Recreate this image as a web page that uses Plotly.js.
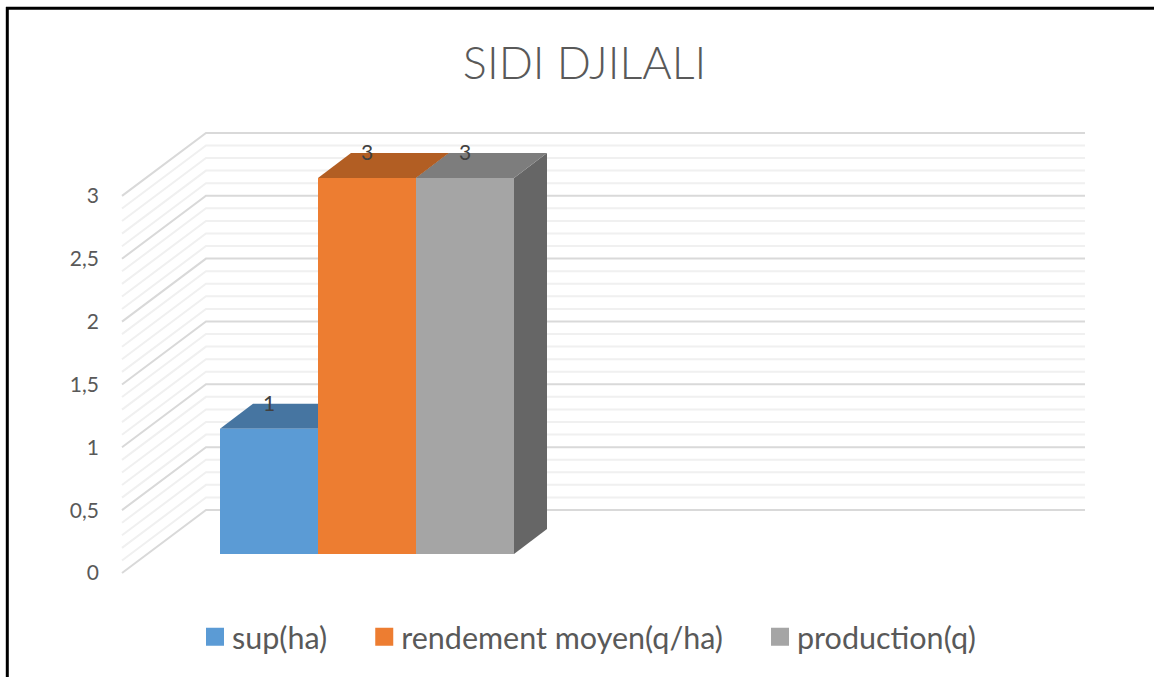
<!DOCTYPE html>
<html>
<head>
<meta charset="utf-8">
<script src="https://cdn.plot.ly/plotly-3.0.1.min.js"></script>
<style>html,body{margin:0;padding:0;background:#fff}#chart{width:1154px;height:677px}</style>
</head>
<body>
<div id="chart"></div>
<script>
// ---- data ----
const chartTitle = "SIDI DJILALI";
const seriesNames = ["sup(ha)", "rendement moyen(q/ha)", "production(q)"];
const supValues = [1];
const rendementValues = [3];
const productionValues = [3];
const seriesValues = [supValues, rendementValues, productionValues];
const tickValues = [0, 0.5, 1, 1.5, 2, 2.5, 3];
const tickLabels = ["0", "0,5", "1", "1,5", "2", "2,5", "3"];
const minorLevels = [0.1,0.2,0.3,0.4,0.6,0.7,0.8,0.9,1.1,1.2,1.3,1.4,1.6,1.7,1.8,1.9,2.1,2.2,2.3,2.4,2.6,2.7,2.8,2.9];

// ---- styles ----
const frontColors = ["#5B9BD5", "#ED7D31", "#A5A5A5"];
const topColors = ["#4675A1", "#B25E23", "#7D7D7D"];
const sideColors = ["#3F6A92", "#A05520", "#666666"];

// ---- oblique projection of the 3D chart on the two axes ----
const W = 1154, H = 677;
const pxPerBar = 98, firstBarCentre = 269;      // x axis: one unit = one bar
const pxPerUnit = 125.7, zeroY = 573;           // y axis: front plane of the wall
const barBase = (zeroY - 554) / pxPerUnit;      // bars stand in front of the wall
const barScale = 125.35 / pxPerUnit;
const wallDx = 84 / pxPerBar, wallDy = 63 / pxPerUnit;
const barDx = 33 / pxPerBar, barDy = 25 / pxPerUnit;
const wallFront = (122 - firstBarCentre) / pxPerBar;
const wallBack = wallFront + wallDx;
const wallEnd = (1085 - firstBarCentre) / pxPerBar;

function gridShape(level, color, width) {
  return {type: "path", layer: "below", xref: "x", yref: "y",
    path: `M${wallFront},${level} L${wallBack},${level + wallDy} L${wallEnd},${level + wallDy}`,
    line: {color: color, width: width}};
}
function poly(points, color) {
  return {type: "path", layer: "below", xref: "x", yref: "y", fillcolor: color,
    line: {width: 0}, path: "M" + points.map(p => p.join(",")).join(" L") + " Z"};
}
const shapes = [];
minorLevels.forEach(l => shapes.push(gridShape(l, "#F0F0F0", 2)));
tickValues.forEach(l => shapes.push(gridShape(l, "#D9D9D9", 2)));
seriesValues.forEach((vals, i) => {
  const l = i - 0.5, r = i + 0.5, t = barBase + vals[0] * barScale;
  shapes.push(poly([[r, barBase], [r + barDx, barBase + barDy], [r + barDx, t + barDy], [r, t]], sideColors[i]));
  shapes.push(poly([[l, t], [r, t], [r + barDx, t + barDy], [l + barDx, t + barDy]], topColors[i]));
});
// document frame
shapes.push({type: "line", xref: "paper", yref: "paper", x0: 7.3 / W, x1: 7.3 / W, y0: 0, y1: 1 - 7 / H, line: {color: "#000", width: 3}});
shapes.push({type: "line", xref: "paper", yref: "paper", x0: 6 / W, x1: 1, y0: 1 - 8.3 / H, y1: 1 - 8.3 / H, line: {color: "#000", width: 3}});

const traces = seriesValues.map((vals, i) => ({
  type: "bar", name: seriesNames[i], x: [i], y: vals.map(v => v * barScale), base: [barBase], width: 1,
  marker: {color: frontColors[i]}, hoverinfo: "skip"
}));
traces.push({
  type: "scatter", mode: "text", showlegend: false, hoverinfo: "skip",
  x: seriesValues.map((v, i) => i),
  y: seriesValues.map(v => barBase + v[0] * barScale + barDy * 0.92),
  text: seriesValues.map(v => String(v[0])),
  textposition: "middle center",
  textfont: {family: "Lato, sans-serif", size: 21, color: "#404040"}
});

const layout = {
  width: W, height: H, margin: {l: 0, r: 0, t: 0, b: 0, pad: 0},
  paper_bgcolor: "#fff", plot_bgcolor: "rgba(0,0,0,0)",
  barmode: "overlay", showlegend: true,
  title: {text: chartTitle, x: 584.5 / W, xanchor: "center", y: 1 - 63 / H, yanchor: "middle",
          font: {family: "Lato, sans-serif", size: 45, weight: 300, color: "#595959"}},
  xaxis: {visible: false, range: [-firstBarCentre / pxPerBar, (W - firstBarCentre) / pxPerBar], fixedrange: true},
  yaxis: {range: [(zeroY - H) / pxPerUnit, zeroY / pxPerUnit], anchor: "free", position: 99 / W,
          tickmode: "array", tickvals: tickValues, ticktext: tickLabels, showgrid: false, zeroline: false,
          showline: false, ticks: "", fixedrange: true, ticklabelshift: 1.5,
          tickfont: {family: "Lato, sans-serif", size: 21, color: "#595959"}},
  legend: {orientation: "h", x: 163 / W, xanchor: "left", y: 1 - 637 / H, yanchor: "middle", itemwidth: 59,
           font: {family: "Lato, sans-serif", size: 30.5, color: "#595959"}, bgcolor: "rgba(0,0,0,0)", traceorder: "normal"},
  shapes: shapes
};
const gd = document.getElementById("chart");
function enlargeSwatches() {
  // the reference's legend squares are larger and sit closer to their text
  gd.querySelectorAll(".legend .legendpoints path").forEach(p => p.setAttribute("transform", "translate(52,0) scale(1.5)"));
}
Plotly.newPlot(gd, traces, layout, {displayModeBar: false, staticPlot: true}).then(() => {
  enlargeSwatches();
  gd.on("plotly_afterplot", enlargeSwatches);
  requestAnimationFrame(enlargeSwatches);
});
</script>
</body>
</html>
